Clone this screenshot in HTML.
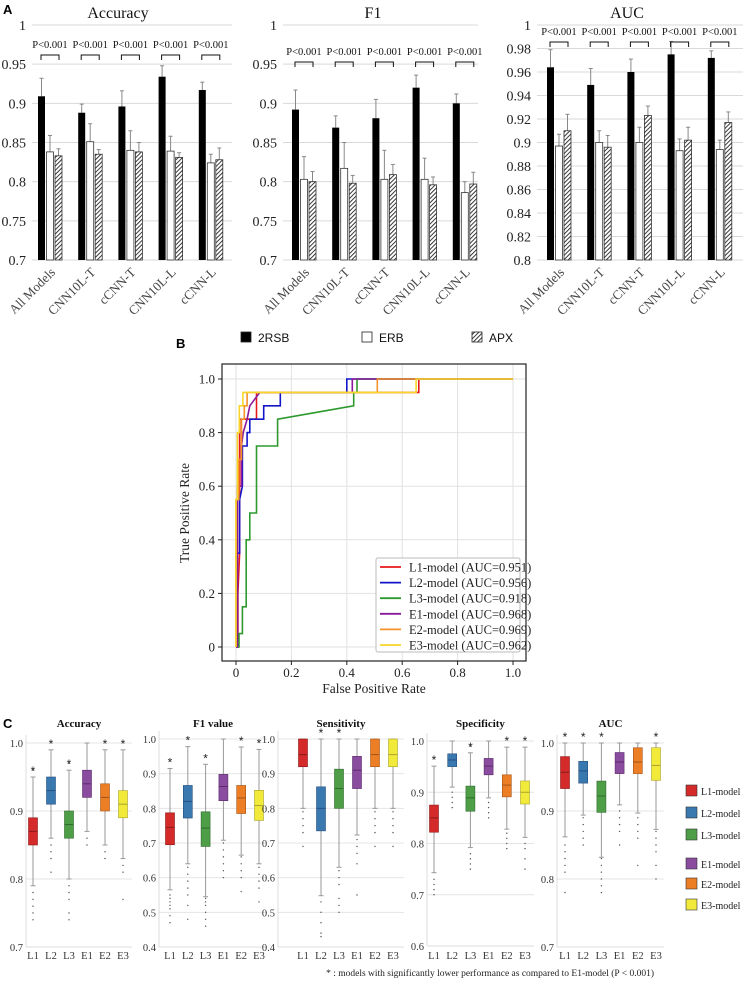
<!DOCTYPE html>
<html><head><meta charset="utf-8"><style>
html,body{margin:0;padding:0;background:#fff}
svg{display:block;font-family:"Liberation Serif",serif}
</style></head><body>
<svg id="fig" width="748" height="987" viewBox="0 0 748 987" xmlns="http://www.w3.org/2000/svg">
<defs>
<pattern id="hatch" patternUnits="userSpaceOnUse" width="3" height="3" patternTransform="rotate(45)">
<rect width="3" height="3" fill="#fff"/><line x1="0" y1="0" x2="0" y2="3" stroke="#222" stroke-width="1.8"/>
</pattern>
</defs>
<text x="3" y="14" font-family="Liberation Sans" font-weight="bold" font-size="13">A</text>
<text x="176" y="348" font-family="Liberation Sans" font-weight="bold" font-size="13">B</text>
<text x="3" y="728" font-family="Liberation Sans" font-weight="bold" font-size="13">C</text>
</svg>
<script>
// ---------- Panel A data ----------
const catsA = ["All Models","CNN10L-T","cCNN-T","CNN10L-L","cCNN-L"];
const seriesA = ["2RSB","ERB","APX"];
const accRSB = [0.909,0.888,0.896,0.934,0.917];
const accRSBerr = [0.932,0.899,0.916,0.948,0.927];
const accERB = [0.838,0.851,0.840,0.839,0.824];
const accERBerr = [0.859,0.874,0.865,0.858,0.835];
const accAPX = [0.833,0.835,0.838,0.831,0.828];
const accAPXerr = [0.842,0.841,0.850,0.837,0.843];
const f1RSB = [0.892,0.869,0.881,0.920,0.900];
const f1RSBerr = [0.917,0.884,0.905,0.936,0.912];
const f1ERB = [0.803,0.817,0.803,0.803,0.786];
const f1ERBerr = [0.832,0.850,0.840,0.830,0.800];
const f1APX = [0.800,0.798,0.809,0.796,0.797];
const f1APXerr = [0.813,0.808,0.822,0.806,0.812];
const aucRSB = [0.964,0.949,0.960,0.975,0.972];
const aucRSBerr = [0.979,0.963,0.971,0.986,0.978];
const aucERB = [0.897,0.900,0.900,0.893,0.894];
const aucERBerr = [0.907,0.910,0.913,0.903,0.902];
const aucAPX = [0.910,0.896,0.923,0.902,0.917];
const aucAPXerr = [0.924,0.906,0.931,0.913,0.926];
const ticksAccF1 = [0.7,0.75,0.8,0.85,0.9,0.95,1];
const tickLabelsAccF1 = ["0.7","0.75","0.8","0.85","0.9","0.95","1"];
const ticksAUC = [0.8,0.82,0.84,0.86,0.88,0.9,0.92,0.94,0.96,0.98,1];
const tickLabelsAUC = ["0.8","0.82","0.84","0.86","0.88","0.9","0.92","0.94","0.96","0.98","1"];

// ---------- Panel B data ----------
const rocNames = ["L1-model (AUC=0.951)","L2-model (AUC=0.956)","L3-model (AUC=0.918)","E1-model (AUC=0.968)","E2-model (AUC=0.969)","E3-model (AUC=0.962)"];
const rocColors = ["#e8191c","#1414c8","#2e9a2e","#8a1a9a","#f5922a","#f7d52a"];
const fprL1 = [0,0.007,0.007,0.013,0.013,0.074,0.074,0.66,0.66,1];
const tprL1 = [0,0,0.2,0.35,0.85,0.85,0.95,0.95,1,1];
const fprL2 = [0,0.005,0.005,0.013,0.013,0.023,0.023,0.04,0.04,0.05,0.05,0.1,0.1,0.16,0.16,0.40,0.40,1];
const tprL2 = [0,0,0.35,0.35,0.55,0.6,0.75,0.75,0.8,0.8,0.85,0.85,0.9,0.9,0.95,0.95,1,1];
const fprL3 = [0,0.011,0.011,0.023,0.023,0.037,0.037,0.05,0.05,0.074,0.074,0.15,0.15,0.425,0.425,0.437,0.437,1];
const tprL3 = [0,0,0.05,0.05,0.15,0.15,0.4,0.4,0.5,0.5,0.75,0.75,0.85,0.9,0.95,0.95,1,1];
const fprE1 = [0,0.005,0.005,0.02,0.02,0.026,0.026,0.04,0.04,0.05,0.05,0.086,0.086,0.42,0.42,1];
const tprE1 = [0,0,0.6,0.6,0.75,0.8,0.8,0.85,0.85,0.9,0.9,0.95,0.95,0.95,1,1];
const fprE2 = [0,0,0.01,0.01,0.02,0.02,0.03,0.03,0.04,0.04,0.51,0.51,1];
const tprE2 = [0,0.55,0.55,0.7,0.7,0.85,0.85,0.9,0.9,0.95,0.95,1,1];
const fprE3 = [0,0,0.005,0.005,0.012,0.012,0.025,0.025,0.65,0.65,1];
const tprE3 = [0,0.55,0.55,0.8,0.8,0.9,0.9,0.95,0.95,1,1];
const rocTicks = [0,0.2,0.4,0.6,0.8,1.0];
const rocXLabels = ["0","0.2","0.4","0.6","0.8","1.0"];
const rocYLabels = ["0","0.2","0.4","0.6","0.8","1.0"];

// ---------- Panel C data ----------
const boxCats = ["L1","L2","L3","E1","E2","E3"];
const boxColors = ["#d42a2a","#3a78b0","#4e9e48","#8a4c9e","#ec7f25","#f2ea3a"];
const boxEdges = ["#8a1a1a","#245080","#2f6a2c","#5a2c6a","#a4541a","#a8a22a"];
// [whislo, q1, median, q3, whishi]
const accBox = [[0.79,0.85,0.87,0.89,0.95],[0.86,0.91,0.93,0.95,0.99],[0.80,0.86,0.88,0.90,0.96],[0.87,0.92,0.94,0.96,1.0],[0.85,0.90,0.92,0.94,0.99],[0.83,0.89,0.91,0.93,0.99]];
const accFliers = [[0.78,0.77,0.76,0.75,0.74,0.96],[0.85,0.84,0.83,0.81],[0.79,0.78,0.77,0.75,0.74,0.97],[0.86,0.85],[0.84,0.83],[0.82,0.81,0.77]];
const f1Box = [[0.565,0.695,0.745,0.787,0.915],[0.64,0.772,0.82,0.866,0.978],[0.545,0.69,0.743,0.79,0.927],[0.708,0.822,0.863,0.898,1.0],[0.665,0.785,0.83,0.866,0.977],[0.64,0.765,0.808,0.852,0.97]];
const f1Fliers = [[0.55,0.54,0.53,0.52,0.51,0.49,0.47],[0.63,0.61,0.59,0.57,0.55,0.52,0.48],[0.54,0.53,0.52,0.5,0.48,0.46],[0.70,0.68,0.66,0.64,0.62,0.60],[0.66,0.64,0.62,0.60,0.56],[0.63,0.61,0.59,0.57,0.53]];
const senBox = [[0.80,0.92,0.955,1.0,1.0],[0.548,0.735,0.80,0.862,1.0],[0.63,0.80,0.857,0.913,1.0],[0.723,0.857,0.91,0.95,1.0],[0.80,0.92,0.955,1.0,1.0],[0.80,0.92,0.955,1.0,1.0]];
const senFliers = [[0.79,0.77,0.75,0.73,0.69],[0.53,0.5,0.47,0.44,0.43],[0.62,0.6,0.58,0.54,0.52,0.5],[0.71,0.69,0.67,0.64,0.55],[0.79,0.77,0.75,0.73,0.69],[0.79,0.77,0.75,0.73,0.69]];
const speBox = [[0.743,0.822,0.85,0.875,0.951],[0.91,0.95,0.963,0.975,1.0],[0.792,0.863,0.889,0.912,0.977],[0.889,0.934,0.951,0.966,1.0],[0.828,0.891,0.914,0.934,0.988],[0.812,0.877,0.90,0.922,0.988]];
const speFliers = [[0.73,0.72,0.71,0.70],[0.9,0.89,0.88,0.87],[0.78,0.77,0.76,0.75,0.99],[0.88,0.87,0.86,0.85],[0.82,0.81,0.80,0.79],[0.80,0.79,0.77,0.75]];
const aucBox = [[0.862,0.933,0.957,0.98,1.0],[0.894,0.941,0.959,0.973,1.0],[0.832,0.898,0.922,0.944,1.0],[0.909,0.955,0.972,0.986,1.0],[0.897,0.955,0.972,0.993,1.0],[0.873,0.945,0.967,0.993,1.0]];
const aucFliers = [[0.85,0.84,0.83,0.82,0.81,0.78],[0.89,0.88,0.87,0.86,0.85],[0.83,0.82,0.81,0.80,0.79,0.78],[0.90,0.89,0.88,0.87,0.85],[0.89,0.88,0.87,0.86,0.82],[0.87,0.86,0.85,0.84,0.82,0.80]];
const accStars = [1,1,1,0,1,1];
const f1Stars = [1,1,1,0,1,1];
const senStars = [0,1,1,0,0,0];
const speStars = [1,0,1,0,1,1];
const aucStars = [1,1,1,0,0,1];

const NS="http://www.w3.org/2000/svg";
const svg=document.getElementById('fig');
function el(tag,attrs,parent,txt){const e=document.createElementNS(NS,tag);for(const k in attrs)e.setAttribute(k,attrs[k]);if(txt!==undefined)e.textContent=txt;(parent||svg).appendChild(e);return e;}

// ---------- Panel A ----------
function barChart(o){
  const g=el('g',{});
  
  
  const y=v=>o.py1+(v-o.vmax)/(o.vmin-o.vmax)*(o.py0-o.py1);
  o.ticks.forEach((t,i)=>{
    const ln=el('line',{x1:o.x0,x2:o.x1,y1:y(t),y2:y(t),stroke:'#d9d9d9','stroke-width':1},g);
    
    
    const tx=el('text',{x:o.x0-6,y:y(t)+5,'text-anchor':'end','font-size':14,fill:'#222'},g,o.tickLabels[i]);
    
    
  });
  const tt=el('text',{x:o.titleX,y:18,'text-anchor':'middle','font-size':16,fill:'#111'},g,o.title);
  
  
  const fills=['#000','#fff','url(#hatch)'];
  catsA.forEach((c,i)=>{
    const gx=o.gx+i*40.2;
    const vals=[o.s1[i],o.s2[i],o.s3[i]], errs=[o.e1[i],o.e2[i],o.e3[i]];
    vals.forEach((v,j)=>{
      const bx=gx+j*8.5;
      const e=el('line',{x1:bx+3.5,x2:bx+3.5,y1:y(v),y2:y(errs[j]),stroke:'#888','stroke-width':1},g);
      
      
      const cap=el('line',{x1:bx+1.5,x2:bx+5.5,y1:y(errs[j]),y2:y(errs[j]),stroke:'#888','stroke-width':1},g);
      
      
      const r=el('rect',{x:bx,y:y(v),width:7,height:y(o.vmin)-y(v),fill:fills[j],stroke:j===0?'none':'#333','stroke-width':0.8},g);
      
      
    });
    const cx=gx+12;
    const p=el('text',{x:cx,y:o.pY,'text-anchor':'middle','font-size':10.5,fill:'#111'},g,'P<0.001');
    
    
    const b=el('path',{d:`M${cx-9},${o.pY+12} V${o.pY+7} H${cx+9} V${o.pY+12}`,fill:'none',stroke:'#111','stroke-width':1},g);
    
    
    const xl=el('text',{x:0,y:0,'text-anchor':'end','font-size':13,fill:'#444',transform:`translate(${cx+6},${o.py0+13}) rotate(-45)`},g,c);
    
    
  });
}
barChart({name:'accuracy-bar-chart',title:'Accuracy',titleX:118,x0:32,x1:232,py0:260,py1:25,vmin:0.7,vmax:1,ticks:ticksAccF1,tickLabels:tickLabelsAccF1,gx:38,pY:48,s1:accRSB,s2:accERB,s3:accAPX,e1:accRSBerr,e2:accERBerr,e3:accAPXerr});
barChart({name:'f1-bar-chart',title:'F1',titleX:373,x0:283,x1:478,py0:260,py1:25,vmin:0.7,vmax:1,ticks:ticksAccF1,tickLabels:tickLabelsAccF1,gx:292,pY:55,s1:f1RSB,s2:f1ERB,s3:f1APX,e1:f1RSBerr,e2:f1ERBerr,e3:f1APXerr});
barChart({name:'auc-bar-chart',title:'AUC',titleX:627,x0:537,x1:743,py0:260,py1:25,vmin:0.8,vmax:1,ticks:ticksAUC,tickLabels:tickLabelsAUC,gx:547,pY:35,s1:aucRSB,s2:aucERB,s3:aucAPX,e1:aucRSBerr,e2:aucERBerr,e3:aucAPXerr});

// Legend A
[[241,'#000','2RSB'],[362,'#fff','ERB'],[472,'url(#hatch)','APX']].forEach((L,i)=>{
  const r=el('rect',{x:L[0],y:332,width:10,height:10,fill:L[1],stroke:'#222','stroke-width':0.8});
  
  
  const t=el('text',{x:L[0]+17,y:342,'font-family':'Liberation Sans','font-size':12,fill:'#111'},svg,L[2]);
  
  
});

// ---------- Panel B ----------
(function(){
  const g=el('g',{});
  
  
  const X=v=>236+v*(513-236), Y=v=>647+v*(379-647);
  rocTicks.forEach((t,i)=>{
    const gv=el('line',{x1:X(t),x2:X(t),y1:364,y2:661,stroke:'#e2e2e2'},g);
    
    
    const gh=el('line',{x1:222,x2:526,y1:Y(t),y2:Y(t),stroke:'#e2e2e2'},g);
    
    
    const tx=el('text',{x:X(t),y:677,'text-anchor':'middle','font-size':13,fill:'#222'},g,rocXLabels[i]);
    
    
    const ty=el('text',{x:215,y:Y(t)+4.5,'text-anchor':'end','font-size':13,fill:'#222'},g,rocYLabels[i]);
    
    
    el('line',{x1:X(t),x2:X(t),y1:661,y2:665,stroke:'#222'},g);
    el('line',{x1:218,x2:222,y1:Y(t),y2:Y(t),stroke:'#222'},g);
  });
  const fprs=[fprL1,fprL2,fprL3,fprE1,fprE2,fprE3], tprs=[tprL1,tprL2,tprL3,tprE1,tprE2,tprE3];
  fprs.forEach((f,k)=>{
    const d=f.map((v,i)=>(i?'L':'M')+X(v).toFixed(1)+','+Y(tprs[k][i]).toFixed(1)).join(' ');
    const p=el('path',{d,fill:'none',stroke:rocColors[k],'stroke-width':1.6},g);
    
    
  });
  const fr=el('rect',{x:222,y:364,width:304,height:297,fill:'none',stroke:'#222','stroke-width':1.2},g);
  
  
  const xl=el('text',{x:374,y:693,'text-anchor':'middle','font-size':13.5,fill:'#222'},g,'False Positive Rate');
  
  
  const yl=el('text',{x:0,y:0,'text-anchor':'middle','font-size':13.5,fill:'#222',transform:'translate(189,513) rotate(-90)'},g,'True Positive Rate');
  
  
  const lb=el('rect',{x:376,y:558,width:144,height:94,fill:'#fff',stroke:'#bbb','stroke-width':1,rx:2},g);
  
  
  rocNames.forEach((n,k)=>{
    const yy=567+k*15.6;
    const l=el('line',{x1:380,x2:401,y1:yy,y2:yy,stroke:rocColors[k],'stroke-width':1.8},g);
    
    
    const t=el('text',{x:409,y:yy+4.5,'font-size':12.5,fill:'#222'},g,n);
    
    
  });
})();

// ---------- Panel C ----------
function boxPlot(o){
  const g=el('g',{});
  
  
  const y=v=>o.py1+(v-o.vmax)/(o.vmin-o.vmax)*(o.py0-o.py1);
  o.ticks.forEach(t=>{
    const gl=el('line',{x1:o.x0,x2:o.x1,y1:y(t),y2:y(t),stroke:'#e4e4e4'},g);
    
    
    const tl=el('text',{x:o.x0-3,y:y(t)+4,'text-anchor':'end','font-size':10.5,fill:'#333'},g,t.toFixed(1));
    
    
  });
  el('line',{x1:o.x0,x2:o.x0,y1:y(o.vmax)-8,y2:o.py0,stroke:'#ddd'},g);
  el('line',{x1:o.x0,x2:o.x1,y1:o.py0,y2:o.py0,stroke:'#ddd'},g);
  const tt=el('text',{x:(o.x0+o.x1)/2,y:727,'text-anchor':'middle','font-size':11,'font-weight':'bold',fill:'#111'},g,o.title);
  
  
  boxCats.forEach((c,i)=>{
    const cx=o.c0+i*o.pitch, b=o.data[i];
    el('line',{x1:cx,x2:cx,y1:y(b[0]),y2:y(b[4]),stroke:'#999','stroke-width':1},g);
    el('line',{x1:cx-2.5,x2:cx+2.5,y1:y(b[0]),y2:y(b[0]),stroke:'#999'},g);
    el('line',{x1:cx-2.5,x2:cx+2.5,y1:y(b[4]),y2:y(b[4]),stroke:'#999'},g);
    const r=el('rect',{x:cx-4.5,y:y(b[3]),width:9,height:Math.max(1,y(b[1])-y(b[3])),fill:o.colors[i],stroke:boxEdges[i],'stroke-width':0.6},g);
    
    
    el('line',{x1:cx-4.5,x2:cx+4.5,y1:y(b[2]),y2:y(b[2]),stroke:boxEdges[i],'stroke-width':1},g);
    o.fliers[i].forEach(f=>{
      const d=el('circle',{cx:cx,cy:y(f),r:0.7,fill:'#555'},g);
      
      
    });
    if(o.stars[i]){
      const s=el('text',{x:cx,y:y(b[4])-2,'text-anchor':'middle','font-family':'Liberation Sans','font-size':12,fill:'#222'},g,'*');
      
      
    }
    const xl=el('text',{x:cx,y:959,'text-anchor':'middle','font-size':10.5,fill:'#333'},g,c);
    
    
  });
}
boxPlot({name:'accuracy-boxplot',title:'Accuracy',x0:26,x1:132,py0:947,py1:743,vmin:0.7,vmax:1.0,ticks:[0.7,0.8,0.9,1.0],c0:33,pitch:18,data:accBox,fliers:accFliers,stars:accStars,colors:boxColors});
boxPlot({name:'f1-boxplot',title:'F1 value',x0:159,x1:267,py0:947,py1:739,vmin:0.4,vmax:1.0,ticks:[0.4,0.5,0.6,0.7,0.8,0.9,1.0],c0:170,pitch:17.8,data:f1Box,fliers:f1Fliers,stars:f1Stars,colors:boxColors});
boxPlot({name:'sensitivity-boxplot',title:'Sensitivity',x0:278,x1:404,py0:947,py1:739,vmin:0.4,vmax:1.0,ticks:[0.4,0.5,0.6,0.7,0.8,0.9,1.0],c0:303,pitch:18,data:senBox,fliers:senFliers,stars:senStars,colors:boxColors});
boxPlot({name:'specificity-boxplot',title:'Specificity',x0:427,x1:534,py0:946,py1:741,vmin:0.6,vmax:1.0,ticks:[0.6,0.7,0.8,0.9,1.0],c0:434,pitch:18.2,data:speBox,fliers:speFliers,stars:speStars,colors:boxColors});
boxPlot({name:'auc-boxplot',title:'AUC',x0:557,x1:664,py0:947,py1:743,vmin:0.7,vmax:1.0,ticks:[0.7,0.8,0.9,1.0],c0:565,pitch:18.2,data:aucBox,fliers:aucFliers,stars:aucStars,colors:boxColors});

// Legend C
const legCY=[791,813,835,864,884,905];
boxCats.forEach((c,i)=>{
  const r=el('rect',{x:686,y:legCY[i]-6,width:11,height:11,fill:boxColors[i],stroke:'#333','stroke-width':0.6});
  
  
  const t=el('text',{x:701,y:legCY[i]+4,'font-size':10,fill:'#222'},svg,c+'-model');
  
  
});
const fn=el('text',{x:654,y:976,'text-anchor':'end','font-size':9.5,fill:'#222'},svg,'* : models with significantly lower performance as compared to E1-model (P < 0.001)');


</script>
</body></html>
